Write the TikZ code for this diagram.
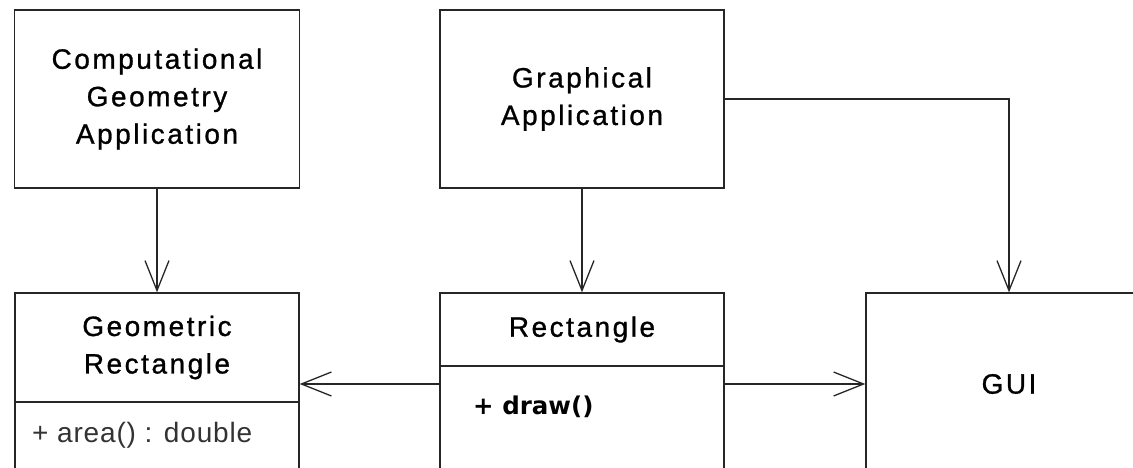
\documentclass[tikz,border=0pt]{standalone}
\usepackage{fontspec}
\newfontfamily\umlfont[LetterSpace=9,FakeBold=1]{Liberation Sans}
\newfontfamily\opfont{DejaVu Sans}
\usetikzlibrary{arrows.meta}

\begin{document}
\begin{tikzpicture}[x=1pt,y=-1pt,
    classbox/.style={draw=black!85,line width=1.3pt,inner sep=0pt},
    classname/.style={align=center,font=\umlfont\fontsize{28}{37.5}\selectfont},
    uses/.style={draw=black!85,line width=1.3pt,-{Straight Barb[length=30pt,width=24pt]}}]
    \useasboundingbox (0,0) rectangle (1133,468);
    \def\lx{157}
    \def\mx{582}
    \def\rx{1009}
    \def\ty{99}
    \def\by{384}
    % top row
    \node[classbox,classname,minimum width=285pt,minimum height=178pt] (cga) at (\lx,\ty) {Computational\\Geometry\\Application};
    \node[classbox,classname,minimum width=284pt,minimum height=178pt] (ga) at (\mx,\ty) {Graphical\\Application};
    % bottom row
    \node[classbox,minimum width=284pt,minimum height=182pt] (georect) at (\lx,\by) {};
    \node[classbox,minimum width=284pt,minimum height=182pt] (rect) at (\mx,\by) {};
    \node[classbox,classname,minimum width=286pt,minimum height=182pt] (gui) at (\rx,\by) {GUI};
    \draw[classbox] (georect.west |- 0,402) -- (georect.east |- 0,402);
    \draw[classbox] (rect.west |- 0,366) -- (rect.east |- 0,366);
    \node[classname] (georectname) at (\lx,347.5) {Geometric\\Rectangle};
    \node[classname] (rectname) at (\mx,329.5) {Rectangle};
    \node[anchor=west,inner sep=0pt,text=black!80,font=\umlfont\fontsize{28}{34}\selectfont\addfontfeature{LetterSpace=3,FakeBold=0}] (area) at (32,435) {+ area() : double};
    \node[anchor=west,inner sep=0pt,font=\opfont\bfseries\fontsize{24.5}{30}\selectfont] (drawop) at (473,407) {+ draw()};
    % dependencies
    \draw[uses] (cga) -- (georect);
    \draw[uses] (ga) -- (rect);
    \draw[uses] (ga.east) -| (gui.north);
    \draw[uses] (rect) -- (georect);
    \draw[uses] (rect) -- (gui);
\end{tikzpicture}
\end{document}
